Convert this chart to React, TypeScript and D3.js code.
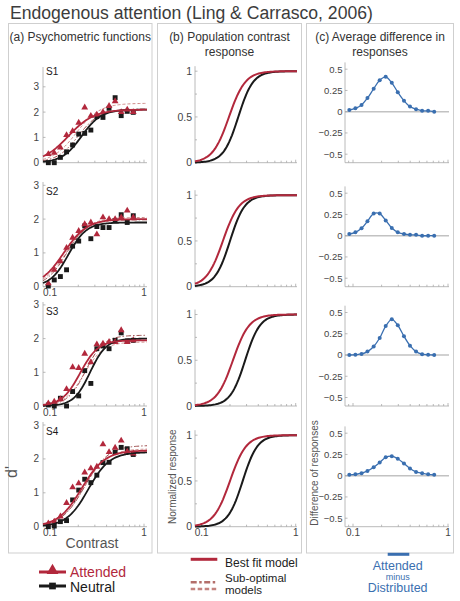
import React from "react";
import * as d3 from "d3";

// ---------------- data ----------------
const A_CONTRAST = [0.096, 0.111, 0.129, 0.15, 0.174, 0.202, 0.234, 0.272, 0.315, 0.366, 0.425, 0.493, 0.572, 0.663, 0.769];
const S1_ATTENDED = [0.34, 0.39, 0.6, 1.09, 1.25, 1.58, 2.18, 1.85, 1.9, 2.0, 2.24, 2.43, 2.0, 2.1, 2.0];
const S1_NEUTRAL = [0, 0, 0.21, 0.43, 0.7, 1.13, 1.16, 1.29, 1.82, 1.79, 2.15, 2.57, 1.86, 2.03, 1.99];
const S2_ATTENDED = [0.1, 0.5, 0.75, 1.15, 1.45, 1.65, 1.85, 1.9, 1.55, 2.05, 2.0, 2.0, 2.05, 2.25, 2.05];
const S2_NEUTRAL = [0.02, 0.2, 0.3, 0.5, 1.2, 1.35, 1.8, 1.42, 1.78, 1.75, 1.75, 1.95, 2.13, 1.9, 2.1];
const S3_ATTENDED = [0.08, 0.13, 0.2, 0.5, 1.15, 1.13, 1.55, 1.3, 1.83, 1.85, 1.9, 1.9, 2.25, 1.9, 1.95];
const S3_NEUTRAL = [0.03, 0, 0.23, 0, 0.43, 0.3, 1.05, 0.67, 1.7, 1.78, 1.7, 1.95, 2.17, 1.93, 1.95];
const S4_ATTENDED = [0.1, 0.15, 0.3, 0.7, 1.16, 1.28, 1.6, 1.72, 1.77, 2.43, 2.2, 2.33, 2.54, 2.21, 2.16];
const S4_NEUTRAL = [0, 0.02, 0.15, 0.18, 0.79, 1.08, 1.4, 1.3, 1.52, 1.89, 1.9, 2.2, 2.34, 2.3, 2.13];

// psychometric fits: [dmax, c50, n]
const FIT_ATTENDED = [[2.1, 0.157, 3.2], [2.0, 0.14, 3.5], [1.95, 0.209, 4.5], [2.25, 0.217, 3.5]];
const FIT_NEUTRAL = [[2.1, 0.217, 4.2], [1.9, 0.157, 4.5], [2.0, 0.267, 5.0], [2.2, 0.255, 3.8]];
const FIT_SUBOPT_DASH = [[2.35, 0.19, 3.5], [2.05, 0.15, 3.6], [1.9, 0.23, 4.2], [2.3, 0.23, 3.5]];
const FIT_SUBOPT_DASHDOT = [[2.12, 0.2, 3.8], [1.98, 0.15, 4.0], [2.1, 0.24, 4.5], [2.4, 0.235, 3.5]];

// population contrast response: [c50, n]
const POP_ATTENDED = [[0.195, 5], [0.168, 5], [0.215, 5], [0.2, 5]];
const POP_NEUTRAL = [[0.245, 5.5], [0.2, 5.5], [0.29, 5.5], [0.273, 5.5]];

const C_CONTRAST = [0.0914, 0.106, 0.123, 0.142, 0.165, 0.191, 0.221, 0.256, 0.296, 0.344, 0.398, 0.461, 0.534, 0.618, 0.716];
const DIFF_1 = [0.02, 0.04, 0.08, 0.16, 0.27, 0.37, 0.41, 0.34, 0.23, 0.13, 0.06, 0.03, 0.01, 0.01, 0.0];
const DIFF_2 = [0.02, 0.04, 0.087, 0.17, 0.26, 0.26, 0.18, 0.09, 0.04, 0.02, 0.01, 0.01, 0.0, 0.0, 0.0];
const DIFF_3 = [0, 0.004, 0.012, 0.04, 0.1, 0.2, 0.34, 0.42, 0.35, 0.22, 0.11, 0.04, 0.01, 0.004, 0];
const DIFF_4 = [0.01, 0.016, 0.03, 0.056, 0.1, 0.156, 0.216, 0.23, 0.2, 0.144, 0.084, 0.044, 0.03, 0.016, 0.01];

const SUBJECTS = ["S1", "S2", "S3", "S4"];
const DPRIME_TICKS = [0, 1, 2, 3];
const RESP_TICKS = [0, 0.5, 1];
const RESP_MINOR = [0.25, 0.75];
const DIFF_TICKS = [-0.5, -0.25, 0, 0.25, 0.5];
const X_TICK_LABELS = [0.1, 1];
const X_MINOR = [0.09, 0.1, 0.2, 0.3, 0.4, 0.5, 0.6, 0.7, 0.8, 0.9, 1];

const ATTENDED = [S1_ATTENDED, S2_ATTENDED, S3_ATTENDED, S4_ATTENDED];
const NEUTRAL = [S1_NEUTRAL, S2_NEUTRAL, S3_NEUTRAL, S4_NEUTRAL];
const DIFFS = [DIFF_1, DIFF_2, DIFF_3, DIFF_4];

// ---------------- style / layout ----------------
const RED = "#b2283c";
const BLACK = "#1a1a1a";
const BLUE = "#3a6fb0";
const SUB_DASH = "#cf8c8a";
const SUB_DASHDOT = "#9c4b4b";
const AXIS = "#a8a8a8";
const TXT = "#444";
const FONT = "'Liberation Sans', Arial, Helvetica, sans-serif";

const PANEL_BOTTOM = [162.7, 286.7, 406, 526.7];
const A_UNIT = [25.3, 33.8, 33.7, 33.9];
const A_TOP = [67, 182, 302, 422];
const A_LABEL_Y = [75, 195, 315, 435];
const B_UNIT = 91.5;
const C_UNIT = 85;

const fmt = (v: number) => (v < 0 ? "\u2212" + String(Math.abs(v)) : String(v));

const nakaRushton = (c: number, p: number[]) => {
  const [dmax, c50, n] = p;
  return (dmax * Math.pow(c, n)) / (Math.pow(c, n) + Math.pow(c50, n));
};

function logSamples(a: number, b: number, k = 80) {
  return d3.range(k + 1).map((i) => a * Math.pow(b / a, i / k));
}

function XAxis({ x, x0, x1, y, labels }: any) {
  return (
    <g>
      <line x1={x0} x2={x1} y1={y} y2={y} stroke={AXIS} strokeWidth={0.8} />
      {X_MINOR.filter((t) => x(t) >= x0 && x(t) <= x1).map((t) => (
        <line key={t} x1={x(t)} x2={x(t)} y1={y} y2={y - (t === 0.1 || t === 1 ? 3 : 2)} stroke={AXIS} strokeWidth={0.8} />
      ))}
      {labels &&
        X_TICK_LABELS.map((t) => (
          <text key={t} x={x(t)} y={y + 9.5} fontSize={10} textAnchor="middle" fill={TXT} fontFamily={FONT}>
            {t}
          </text>
        ))}
    </g>
  );
}

function PanelA({ i }: { i: number }) {
  const bottom = PANEL_BOTTOM[i];
  const x = d3.scaleLog().domain([0.1, 1]).range([50, 144]);
  const y = d3.scaleLinear().domain([0, 1]).range([bottom, bottom - A_UNIT[i]]);
  const x0 = 43, x1 = 147;
  const cs = logSamples(x.invert(x0), x.invert(x1));
  const mk = (p: number[]) =>
    d3.line<number>().x((c) => x(c)).y((c) => y(nakaRushton(c, p)))(cs) as string;
  const tri = d3.symbol().type(d3.symbolTriangle).size(20)() as string;
  const sq = d3.symbol().type(d3.symbolSquare).size(24)() as string;
  return (
    <g>
      <line x1={x0} x2={x0} y1={bottom} y2={A_TOP[i]} stroke={AXIS} strokeWidth={0.8} />
      {DPRIME_TICKS.map((t) => (
        <g key={t}>
          <line x1={x0} x2={x0 + 2.5} y1={y(t)} y2={y(t)} stroke={AXIS} strokeWidth={0.8} />
          <text x={x0 - 4} y={y(t)} dy="0.35em" fontSize={10} textAnchor="end" fill={TXT} fontFamily={FONT}>
            {t}
          </text>
        </g>
      ))}
      <XAxis x={x} x0={x0} x1={x1} y={bottom} labels={i > 0} />
      <text x={46} y={A_LABEL_Y[i]} fontSize={10} fill={BLACK} fontFamily={FONT}>
        {SUBJECTS[i]}
      </text>
      <path d={mk(FIT_SUBOPT_DASH[i])} fill="none" stroke={SUB_DASH} strokeWidth={1} strokeDasharray="3,2" />
      <path d={mk(FIT_SUBOPT_DASHDOT[i])} fill="none" stroke={SUB_DASHDOT} strokeWidth={1} strokeDasharray="5,2,1.5,2" />
      {NEUTRAL[i].map((v, k) => (
        <path key={"n" + k} d={sq} transform={`translate(${x(A_CONTRAST[k])},${y(v)})`} fill={BLACK} />
      ))}
      {ATTENDED[i].map((v, k) => (
        <path key={"a" + k} d={tri} transform={`translate(${x(A_CONTRAST[k])},${y(v)})`} fill={RED} />
      ))}
      <path d={mk(FIT_NEUTRAL[i])} fill="none" stroke={BLACK} strokeWidth={1.8} />
      <path d={mk(FIT_ATTENDED[i])} fill="none" stroke={RED} strokeWidth={1.8} />
    </g>
  );
}

function PanelB({ i }: { i: number }) {
  const bottom = PANEL_BOTTOM[i];
  const x = d3.scaleLog().domain([0.1, 1]).range([201.7, 295.7]);
  const y = d3.scaleLinear().domain([0, 1]).range([bottom, bottom - B_UNIT]);
  const x0 = 195, x1 = 297;
  const cs = logSamples(x.invert(x0), x.invert(x1));
  const mk = (p: number[]) =>
    d3.line<number>().x((c) => x(c)).y((c) => y(nakaRushton(c, [1, p[0], p[1]])))(cs) as string;
  return (
    <g>
      <line x1={x0} x2={x0} y1={bottom} y2={bottom - B_UNIT - 5} stroke={AXIS} strokeWidth={0.8} />
      {RESP_TICKS.map((t) => (
        <g key={t}>
          <line x1={x0} x2={x0 + 2.5} y1={y(t)} y2={y(t)} stroke={AXIS} strokeWidth={0.8} />
          <text x={x0 - 3} y={y(t)} dy="0.35em" fontSize={10.5} textAnchor="end" fill={TXT} fontFamily={FONT}>
            {t}
          </text>
        </g>
      ))}
      {RESP_MINOR.map((t) => (
        <line key={t} x1={x0} x2={x0 + 2} y1={y(t)} y2={y(t)} stroke={AXIS} strokeWidth={0.8} />
      ))}
      <XAxis x={x} x0={x0} x1={x1} y={bottom} labels={i === 3} />
      <path d={mk(POP_NEUTRAL[i])} fill="none" stroke={BLACK} strokeWidth={2} />
      <path d={mk(POP_ATTENDED[i])} fill="none" stroke={RED} strokeWidth={2} />
    </g>
  );
}

function PanelC({ i }: { i: number }) {
  const bottom = PANEL_BOTTOM[i];
  const x = d3.scaleLog().domain([0.1, 1]).range([353, 448]);
  const y = d3.scaleLinear().domain([-0.6, 0.58]).range([bottom, bottom - 1.18 * C_UNIT]);
  const x0 = 345, x1 = 449;
  const pts = DIFFS[i].map((v, k) => [x(C_CONTRAST[k]), y(v)] as [number, number]);
  const line = d3.line().curve(d3.curveCatmullRom.alpha(0.5))(pts) as string;
  return (
    <g>
      <line x1={x0} x2={x1} y1={y(0)} y2={y(0)} stroke="#c2c2c2" strokeWidth={1.4} />
      <line x1={x0} x2={x0} y1={bottom} y2={y(0.58)} stroke={AXIS} strokeWidth={0.8} />
      {DIFF_TICKS.map((t) => (
        <g key={t}>
          <line x1={x0} x2={x0 + 2.5} y1={y(t)} y2={y(t)} stroke={AXIS} strokeWidth={0.8} />
          <text x={x0 - 2.5} y={y(t)} dy="0.35em" fontSize={9.5} textAnchor="end" fill={TXT} fontFamily={FONT}>
            {fmt(t)}
          </text>
        </g>
      ))}
      <XAxis x={x} x0={x0} x1={x1} y={bottom} labels={i === 3} />
      <path d={line} fill="none" stroke={BLUE} strokeWidth={1.3} />
      {pts.map((p, k) => (
        <circle key={k} cx={p[0]} cy={p[1]} r={2} fill={BLUE} />
      ))}
    </g>
  );
}

export default function App() {
  const triL = d3.symbol().type(d3.symbolTriangle).size(60)() as string;
  const sqL = d3.symbol().type(d3.symbolSquare).size(45)() as string;
  return (
    <svg width={460} height={601} style={{ position: "absolute", left: 0, top: 0, background: "#fff" }} fontFamily={FONT}>
      <rect width={460} height={601} fill="#fff" />
      <text x={10} y={18.5} fontSize={17.6} fill="#3c3c3c">
        Endogenous attention (Ling &amp; Carrasco, 2006)
      </text>
      {/* column boxes */}
      <rect x={8.5} y={23.5} width={143.5} height={529.5} fill="none" stroke="#cfcfcf" strokeWidth={1} />
      <rect x={157.5} y={23.5} width={144} height={529.5} fill="none" stroke="#cfcfcf" strokeWidth={1} />
      <rect x={306.5} y={23.5} width={147} height={529.5} fill="none" stroke="#cfcfcf" strokeWidth={1} />
      <text x={9.5} y={41} fontSize={12} fill="#333">(a) Psychometric functions</text>
      <text x={229.5} y={41} fontSize={12} fill="#333" textAnchor="middle">(b) Population contrast</text>
      <text x={229.5} y={56} fontSize={12} fill="#333" textAnchor="middle">response</text>
      <text x={380} y={41} fontSize={12} fill="#333" textAnchor="middle">(c) Average difference in</text>
      <text x={380} y={56} fontSize={12} fill="#333" textAnchor="middle">responses</text>

      {[0, 1, 2, 3].map((i) => (
        <g key={i}>
          <PanelA i={i} />
          <PanelB i={i} />
          <PanelC i={i} />
        </g>
      ))}

      {/* axis titles */}
      <text x={92} y={548} fontSize={14} fill="#555" textAnchor="middle">Contrast</text>
      <text transform="translate(17,472) rotate(-90)" fontSize={16} fill="#555" textAnchor="middle">d'</text>
      <text transform="translate(176,476.7) rotate(-90)" fontSize={10} fill="#555" textAnchor="middle">Normalized response</text>
      <text transform="translate(317.5,473) rotate(-90)" fontSize={10} fill="#555" textAnchor="middle">Difference of responses</text>

      {/* legend left */}
      <line x1={39} x2={66} y1={572} y2={572} stroke={RED} strokeWidth={3} />
      <path d={triL} transform="translate(52.5,570.5)" fill={RED} />
      <text x={70} y={576.5} fontSize={14} fill={RED}>Attended</text>
      <line x1={39} x2={66} y1={586} y2={586} stroke={BLACK} strokeWidth={3} />
      <path d={sqL} transform="translate(52.5,586)" fill={BLACK} />
      <text x={70} y={591.5} fontSize={14} fill={BLACK}>Neutral</text>

      {/* legend middle */}
      <line x1={190.7} x2={217.3} y1={559.3} y2={559.3} stroke={RED} strokeWidth={3} />
      <text x={225} y={566.5} fontSize={12} fill="#222">Best fit model</text>
      <line x1={190.7} x2={217.3} y1={582.3} y2={582.3} stroke="#b36e6a" strokeWidth={2.5} strokeDasharray="6,2.5,2.5,2.5" />
      <line x1={190.7} x2={217.3} y1={589} y2={589} stroke="#c4837f" strokeWidth={2.5} strokeDasharray="4.5,2.5" />
      <text x={225} y={581.5} fontSize={11.5} fill="#222">Sub-optimal</text>
      <text x={225} y={593.8} fontSize={11.5} fill="#222">models</text>

      {/* legend right */}
      <line x1={387.7} x2={409.3} y1={554.3} y2={554.3} stroke={BLUE} strokeWidth={3} />
      <text x={397.7} y={569.5} fontSize={12.5} fill={BLUE} textAnchor="middle">Attended</text>
      <text x={397.7} y={580} fontSize={9} fill={BLUE} textAnchor="middle">minus</text>
      <text x={397.7} y={592} fontSize={12.5} fill={BLUE} textAnchor="middle">Distributed</text>
    </svg>
  );
}
